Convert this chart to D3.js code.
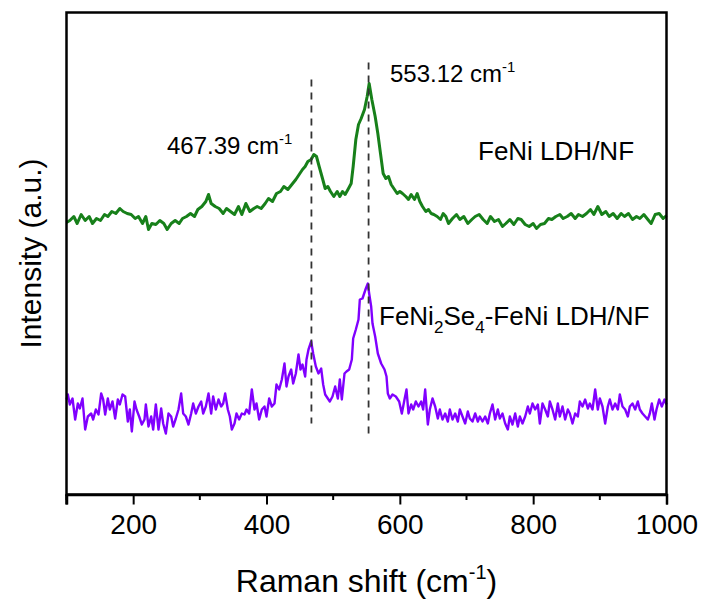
<!DOCTYPE html>
<html>
<head>
<meta charset="utf-8">
<script src="https://cdn.jsdelivr.net/npm/d3@7"></script>
<style>
  html, body { margin: 0; padding: 0; background: #fff; }
  svg { display: block; font-family: "Liberation Sans", Arial, sans-serif; }
</style>
</head>
<body>
<svg id="chart" width="705" height="601"></svg>
<script>
// Raman spectra: [Raman shift (cm^-1), intensity (a.u.)]
const ldhSpectrum = [
  [100,272],[105,274],[111,278],[116,271],[122,280],[128,274],[134,278],[139,271],[145,276],[151,274],
  [157,280],[162,278],[168,283],[174,281],[180,286],[185,283],[191,281],[197,280],[203,276],[208,278],
  [214,271],[219,278],[223,265],[228,271],[234,270],[240,274],[246,271],[251,265],[257,271],[263,274],
  [269,271],[274,276],[280,278],[286,281],[292,278],[297,285],[303,288],[309,293],[313,300],[317,291],
  [323,288],[329,286],[335,281],[340,286],[346,283],[352,280],[358,288],[363,280],[369,291],[375,283],
  [381,286],[386,288],[392,286],[398,291],[403,296],[409,293],[415,301],[421,303],[426,308],[432,305],
  [438,310],[444,315],[449,320],[454,325],[458,328],[462,333],[467,335],[471,340],[475,338],[479,328],
  [484,316],[488,306],[492,308],[496,303],[501,298],[506,303],[510,298],[514,303],[518,300],[523,306],
  [527,311],[530,328],[534,355],[538,370],[542,376],[547,385],[551,398],[554,411],[558,395],[563,378],
  [567,361],[571,341],[575,321],[579,316],[583,318],[587,310],[592,305],[596,301],[600,303],[604,301],
  [609,298],[613,295],[617,300],[622,295],[626,301],[630,293],[634,288],[639,283],[643,285],[647,281],
  [651,280],[656,278],[661,275],[665,281],[669,278],[673,271],[679,276],[685,280],[690,275],[696,278],
  [702,271],[708,275],[713,278],[719,280],[725,275],[731,271],[736,278],[742,273],[748,275],[754,268],
  [759,271],[765,275],[771,270],[777,276],[782,275],[788,270],[794,268],[800,271],[805,266],[811,270],
  [817,271],[823,276],[828,275],[834,278],[840,280],[845,276],[851,278],[857,281],[863,276],[868,280],
  [874,278],[880,281],[886,285],[891,280],[897,288],[903,280],[909,283],[914,278],[920,281],[926,276],
  [932,281],[937,278],[943,281],[949,275],[955,278],[960,276],[966,280],[972,275],[977,271],[983,280],
  [989,281],[995,276],[1000,279]
];

const seleniteSpectrum = [
  [100,95],[102,100],[105,90],[109,96],[113,75],[117,91],[120,86],[124,96],[128,65],[132,78],
  [137,81],[140,75],[144,85],[148,80],[152,101],[155,95],[158,80],[162,96],[165,85],[169,93],
  [173,76],[177,95],[180,90],[184,100],[188,98],[192,73],[195,85],[198,63],[202,93],[205,85],
  [209,78],[213,70],[217,75],[219,90],[223,68],[227,78],[230,65],[234,90],[238,65],[242,86],
  [245,71],[249,61],[253,81],[257,78],[260,68],[264,76],[268,85],[272,101],[275,81],[279,78],
  [283,70],[287,81],[290,91],[294,81],[298,88],[302,93],[305,81],[309,88],[313,101],[317,81],
  [320,98],[324,85],[328,95],[332,88],[335,91],[338,101],[342,85],[345,78],[348,65],[352,71],
  [355,81],[359,75],[363,81],[367,80],[370,85],[374,81],[378,105],[382,85],[385,91],[389,75],
  [393,85],[397,88],[400,78],[404,96],[408,88],[412,91],[415,110],[419,105],[423,115],[427,131],
  [430,108],[433,118],[437,125],[440,111],[444,121],[448,140],[451,125],[454,130],[458,118],[460,135],
  [463,145],[467,153],[470,141],[474,128],[478,121],[482,126],[485,110],[488,100],[492,96],[495,93],
  [499,98],[503,108],[507,96],[510,115],[513,95],[517,121],[520,123],[524,125],[528,135],[530,156],
  [534,165],[538,175],[540,195],[544,196],[549,206],[552,211],[554,201],[557,188],[559,171],[563,158],
  [567,141],[572,131],[577,125],[580,118],[582,101],[585,96],[589,100],[594,98],[599,93],[603,81],
  [607,95],[610,105],[613,81],[617,90],[620,85],[624,93],[628,88],[632,93],[635,85],[638,105],
  [642,70],[645,85],[649,96],[653,88],[657,76],[660,85],[664,75],[668,81],[672,73],[675,85],
  [679,75],[683,81],[687,73],[690,85],[694,78],[698,71],[702,83],[705,76],[709,73],[713,81],
  [717,73],[720,78],[724,73],[728,78],[732,71],[735,81],[739,90],[743,75],[747,85],[750,76],
  [754,81],[758,71],[762,65],[765,78],[769,70],[773,81],[777,68],[780,78],[784,71],[788,78],
  [792,88],[795,81],[799,91],[803,85],[807,90],[810,71],[814,91],[818,85],[822,78],[825,93],
  [829,85],[833,75],[837,91],[840,78],[844,88],[848,75],[852,85],[855,81],[859,71],[863,81],
  [867,78],[870,93],[874,88],[878,95],[882,86],[885,91],[889,85],[893,105],[897,85],[900,96],
  [904,88],[908,71],[912,88],[915,95],[919,85],[923,91],[927,85],[930,100],[934,88],[938,85],
  [942,78],[945,88],[949,91],[953,85],[957,93],[960,85],[964,81],[968,78],[972,75],[975,81],
  [978,91],[982,75],[985,85],[989,95],[993,88],[997,95],[1000,90]
];

// Peak markers: position, dashed line extent (intensity), label anchor
const peakShifts = [467.39, 553.12];
const peakLineTop = [415, 432];
const peakLineBottom = [71, 58];
const peakLabels = ["467.39 cm", "553.12 cm"];

const xTicks = [200, 400, 600, 800, 1000];
const xMinorTicks = [100, 300, 500, 700, 900];

const width = 705, height = 601;
const margin = { left: 66.5, right: 38.5, top: 12.5, bottom: 106.5 };
const plotW = width - margin.left - margin.right;
const plotH = height - margin.top - margin.bottom;

const svg = d3.select("#chart");

const x = d3.scaleLinear().domain([100, 1000]).range([margin.left, margin.left + plotW]);
const y = d3.scaleLinear().domain([0, 482]).range([margin.top + plotH, margin.top]);

// spectra
const line = d3.line().x(d => x(d[0])).y(d => y(d[1]));

svg.append("path")
  .datum(seleniteSpectrum)
  .attr("fill", "none")
  .attr("stroke", "#8000ff")
  .attr("stroke-width", 2.4)
  .attr("stroke-linejoin", "round")
  .attr("d", line);

svg.append("path")
  .datum(ldhSpectrum)
  .attr("fill", "none")
  .attr("stroke", "#17801a")
  .attr("stroke-width", 3)
  .attr("stroke-linejoin", "round")
  .attr("d", line);

// dashed peak guides
svg.selectAll(".peak-line")
  .data(peakShifts)
  .join("line")
  .attr("class", "peak-line")
  .attr("x1", d => x(d)).attr("x2", d => x(d))
  .attr("y1", (d, i) => y(peakLineTop[i]))
  .attr("y2", (d, i) => y(peakLineBottom[i]))
  .attr("stroke", "#333")
  .attr("stroke-width", 1.8)
  .attr("stroke-dasharray", "7,6");

// frame
svg.append("rect")
  .attr("x", margin.left).attr("y", margin.top)
  .attr("width", plotW).attr("height", plotH)
  .attr("fill", "none")
  .attr("stroke", "#000")
  .attr("stroke-width", 2.5);

// bottom axis
const axisY = margin.top + plotH;
const xAxis = d3.axisBottom(x)
  .tickValues(xTicks)
  .tickSize(10)
  .tickPadding(10)
  .tickFormat(d3.format("d"));

const gx = svg.append("g")
  .attr("transform", `translate(0,${axisY})`)
  .call(xAxis);
gx.select(".domain").attr("stroke-width", 2.5);
gx.selectAll(".tick line").attr("stroke-width", 2);
gx.selectAll(".tick text")
  .attr("font-size", 28)
  .attr("font-family", "Liberation Sans, Arial, sans-serif")
  .attr("fill", "#000");

svg.append("g")
  .selectAll("line")
  .data(xMinorTicks)
  .join("line")
  .attr("x1", d => x(d)).attr("x2", d => x(d))
  .attr("y1", axisY).attr("y2", axisY + 5.5)
  .attr("stroke", "#000")
  .attr("stroke-width", 2);
svg.append("line")
  .attr("x1", x(100)).attr("x2", x(100))
  .attr("y1", axisY).attr("y2", axisY + 10)
  .attr("stroke", "#000").attr("stroke-width", 2.5);

// text helper: base text plus a superscript "-1"
function wavenumberLabel(g, tx, ty, base, size) {
  const t = g.append("text")
    .attr("x", tx).attr("y", ty)
    .attr("font-size", size)
    .attr("fill", "#000");
  t.append("tspan").text(base);
  t.append("tspan")
    .attr("font-size", size * 0.62)
    .attr("dy", -size * 0.42)
    .text("-1");
  return t;
}

// peak labels
wavenumberLabel(svg, 167, 154, peakLabels[0], 24);
wavenumberLabel(svg, 390, 82, peakLabels[1], 24);

// series labels
svg.append("text")
  .attr("x", 478).attr("y", 160)
  .attr("font-size", 26)
  .text("FeNi LDH/NF");

const sel = svg.append("text")
  .attr("x", 379).attr("y", 325)
  .attr("font-size", 26);
sel.append("tspan").text("FeNi");
sel.append("tspan").attr("font-size", 17).attr("dy", 8).text("2");
sel.append("tspan").attr("dy", -8).text("Se");
sel.append("tspan").attr("font-size", 17).attr("dy", 8).text("4");
sel.append("tspan").attr("dy", -8).text("-FeNi LDH/NF");

// axis titles
const xt = svg.append("text")
  .attr("x", margin.left + plotW / 2)
  .attr("y", 592)
  .attr("text-anchor", "middle")
  .attr("font-size", 32);
xt.append("tspan").text("Raman shift (cm");
xt.append("tspan").attr("font-size", 20).attr("dy", -13).text("-1");
xt.append("tspan").attr("dy", 13).text(")");

svg.append("text")
  .attr("transform", `translate(41,${margin.top + plotH / 2}) rotate(-90)`)
  .attr("text-anchor", "middle")
  .attr("font-size", 30)
  .text("Intensity (a.u.)");
</script>
</body>
</html>
